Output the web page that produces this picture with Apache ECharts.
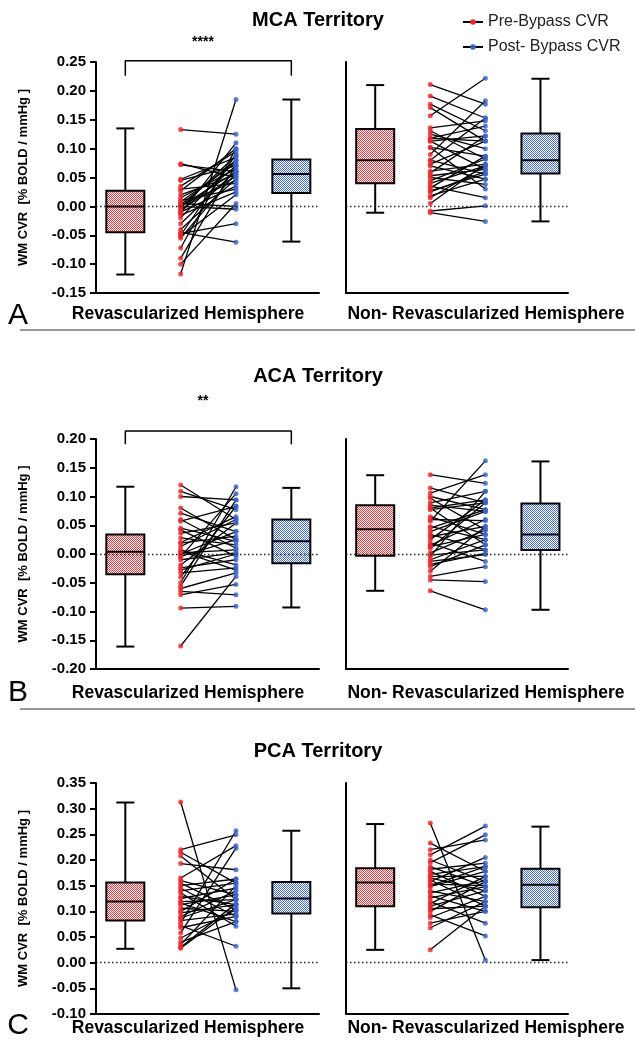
<!DOCTYPE html>
<html><head><meta charset="utf-8">
<script src="https://cdn.jsdelivr.net/npm/echarts@6.0.0/dist/echarts.min.js"></script>
<style>html,body{margin:0;padding:0;background:#fff}#c{width:635px;height:1043px}</style>
</head><body><div id="c"></div>
<script>
// ---------------- DATA ----------------
// MCA territory, revascularized hemisphere (paired pre / post)
const mcaRevPre  = [0.133,0.074,0.072,0.047,0.045,0.035,0.030,0.027,0.020,0.015,0.010,0.008,0.005,0.003,0.002,0.000,0.000,-0.002,-0.005,-0.008,-0.010,-0.012,-0.015,-0.020,-0.030,-0.040,-0.045,-0.047,-0.050,-0.052,-0.055,-0.072,-0.090,-0.100,-0.117];
const mcaRevPost = [0.125,0.050,0.060,0.085,0.070,0.095,0.040,0.100,0.055,0.065,0.030,0.075,0.000,0.080,0.045,-0.005,0.060,0.088,0.052,0.070,0.035,0.110,0.025,0.080,0.062,0.048,-0.062,-0.030,0.090,0.020,0.058,0.100,0.072,0.005,0.185];
// MCA territory, non-revascularized hemisphere
const mcaNonPre  = [0.211,0.191,0.177,0.171,0.157,0.136,0.131,0.118,0.118,0.113,0.113,0.102,0.102,0.080,0.080,0.073,0.070,0.061,0.058,0.053,0.050,0.044,0.040,0.035,0.032,0.027,0.025,0.018,0.015,0.005,-0.008,-0.011,0.090,0.125];
const mcaNonPost = [0.177,0.153,0.131,0.113,0.222,0.148,0.082,0.139,0.113,0.122,0.064,0.087,0.030,0.153,0.056,0.113,0.047,0.073,0.122,0.064,0.038,0.082,0.070,0.015,0.087,0.056,0.060,0.047,0.070,0.073,0.001,-0.026,0.183,0.100];
// ACA territory, revascularized hemisphere
const acaRevPre  = [0.120,0.109,0.100,0.080,0.071,0.057,0.042,0.036,0.028,0.019,0.013,0.007,0.002,0.000,-0.004,-0.010,-0.019,-0.024,-0.033,-0.040,-0.050,-0.056,-0.060,-0.065,-0.071,-0.094,-0.160,0.045,0.020,-0.005,0.060,-0.028,0.005];
const acaRevPost = [0.060,0.077,0.094,0.025,0.039,0.083,-0.004,0.054,0.016,0.031,0.060,-0.019,0.007,0.039,0.025,0.002,0.054,-0.010,-0.024,0.083,0.117,0.094,-0.033,-0.071,-0.053,-0.091,-0.039,0.022,0.065,0.105,0.010,0.000,-0.028];
// ACA territory, non-revascularized hemisphere
const acaNonPre  = [0.138,0.115,0.106,0.100,0.097,0.089,0.085,0.080,0.080,0.077,0.065,0.057,0.048,0.045,0.039,0.034,0.030,0.025,0.019,0.013,0.010,0.002,-0.002,-0.004,-0.010,-0.013,-0.022,-0.030,-0.039,-0.045,-0.064,0.060,0.015,-0.018];
const acaNonPost = [0.123,0.089,0.138,0.077,0.042,0.109,0.074,0.094,0.016,0.089,0.034,0.162,0.025,0.077,0.074,0.007,0.048,0.094,-0.013,0.034,0.089,0.042,0.007,0.109,0.025,-0.001,0.016,0.048,-0.022,-0.048,-0.097,0.058,0.060,0.001];
// PCA territory, revascularized hemisphere
const pcaRevPre  = [0.313,0.220,0.215,0.208,0.193,0.165,0.160,0.155,0.150,0.145,0.140,0.136,0.129,0.125,0.119,0.116,0.113,0.106,0.100,0.097,0.090,0.087,0.077,0.072,0.068,0.058,0.048,0.040,0.035,0.030,0.028,0.082];
const pcaRevPost = [-0.053,0.249,0.155,0.123,0.181,0.228,0.132,0.103,0.163,0.090,0.155,0.071,0.113,0.145,0.123,0.080,0.132,0.100,0.163,0.113,0.140,0.123,0.257,0.032,0.090,0.223,0.103,0.080,0.150,0.115,0.108,0.095];
// PCA territory, non-revascularized hemisphere
const pcaNonPre  = [0.272,0.233,0.220,0.210,0.200,0.195,0.187,0.182,0.178,0.172,0.168,0.161,0.158,0.153,0.148,0.140,0.136,0.130,0.126,0.119,0.115,0.110,0.105,0.100,0.093,0.088,0.077,0.068,0.025,0.150,0.165];
const pcaNonPost = [0.005,0.178,0.239,0.266,0.158,0.249,0.148,0.194,0.129,0.187,0.168,0.110,0.205,0.150,0.178,0.119,0.160,0.100,0.148,0.077,0.168,0.140,0.110,0.158,0.052,0.129,0.100,0.119,0.110,0.187,0.140];

// Box statistics [min, Q1, median, Q3, max]
const mcaRevBoxPre  = [-0.118,-0.045,0.000,0.027,0.135];
const mcaRevBoxPost = [-0.061,0.023,0.056,0.081,0.185];
const mcaNonBoxPre  = [-0.011,0.040,0.080,0.134,0.210];
const mcaNonBoxPost = [-0.026,0.057,0.080,0.126,0.221];
const acaRevBoxPre  = [-0.161,-0.035,0.004,0.034,0.117];
const acaRevBoxPost = [-0.093,-0.016,0.022,0.060,0.115];
const acaNonBoxPre  = [-0.064,-0.003,0.043,0.085,0.137];
const acaNonBoxPost = [-0.097,0.007,0.034,0.088,0.161];
const pcaRevBoxPre  = [0.027,0.082,0.119,0.156,0.312];
const pcaRevBoxPost = [-0.050,0.096,0.125,0.157,0.257];
const pcaNonBoxPre  = [0.025,0.110,0.156,0.184,0.270];
const pcaNonBoxPost = [0.005,0.108,0.152,0.183,0.265];

// Text
const panelTitles = ['MCA Territory','ACA Territory','PCA Territory'];
const panelLetters = ['A','B','C'];
const hemiLabels = ['Revascularized Hemisphere','Non- Revascularized Hemisphere'];
const legendNames = ['Pre-Bypass CVR','Post- Bypass CVR'];
const yAxisTitle = 'WM CVR  [% BOLD / mmHg ]';
const sigStars = ['****','**',null];
// slot positions on the x axis: pre box, pre points, post points, post box
const slots = [1,2,3,4];

// ---------------- LAYOUT / STYLE ----------------
const FONT = '"Liberation Sans", Arial, sans-serif';
const RED = '#e8262b', BLUE = '#3a62c4';
function checker(color){
  const c = document.createElement('canvas'); c.width = 2; c.height = 2;
  const g = c.getContext('2d'); g.fillStyle = '#fff'; g.fillRect(0,0,2,2);
  g.fillStyle = color; g.fillRect(0,0,1,1); g.fillRect(1,1,1,1);
  return {image: c, repeat: 'repeat'};
}
const redPat = checker('#e83a40'), bluePat = checker('#4a6fcf');

const panels = [
  {top:62, height:231, ymin:-0.15, ymax:0.25, bracket:[0.226,0.252], titleY:20, starY:42, labelY:314, letterY:316, sepY:330,
   rev:[mcaRevPre,mcaRevPost,mcaRevBoxPre,mcaRevBoxPost], non:[mcaNonPre,mcaNonPost,mcaNonBoxPre,mcaNonBoxPost]},
  {top:439, height:230, ymin:-0.20, ymax:0.20, bracket:[0.191,0.214], titleY:376, starY:401, labelY:693, letterY:693, sepY:709,
   rev:[acaRevPre,acaRevPost,acaRevBoxPre,acaRevBoxPost], non:[acaNonPre,acaNonPost,acaNonBoxPre,acaNonBoxPost]},
  {top:783, height:231, ymin:-0.10, ymax:0.35, bracket:null, titleY:751, starY:0, labelY:1028, letterY:1026, sepY:null,
   rev:[pcaRevPre,pcaRevPost,pcaRevBoxPre,pcaRevBoxPost], non:[pcaNonPre,pcaNonPost,pcaNonBoxPre,pcaNonBoxPost]}
];
const cols = [{left:96, width:223},{left:346, width:222}];

const grid = [], xAxis = [], yAxis = [], series = [], graphic = [];
function fmt(v){ if (Math.abs(v) < 1e-9) v = 0; return v.toFixed(2); }

function renderBox(params, api){
  const x = api.value(0);
  const pts = [1,2,3,4,5].map(i => api.coord([x, api.value(i)]));
  const cx = pts[0][0], bw = 38, cw = 18;
  const ln = {stroke:'#000', lineWidth:2};
  const fill = api.value(6) === 0 ? redPat : bluePat;
  return {type:'group', children:[
    {type:'line', shape:{x1:cx,y1:pts[4][1],x2:cx,y2:pts[3][1]}, style:ln},
    {type:'line', shape:{x1:cx,y1:pts[1][1],x2:cx,y2:pts[0][1]}, style:ln},
    {type:'line', shape:{x1:cx-cw/2,y1:pts[4][1],x2:cx+cw/2,y2:pts[4][1]}, style:ln},
    {type:'line', shape:{x1:cx-cw/2,y1:pts[0][1],x2:cx+cw/2,y2:pts[0][1]}, style:ln},
    {type:'rect', shape:{x:cx-bw/2,y:pts[3][1],width:bw,height:pts[1][1]-pts[3][1]}, style:{fill:fill, stroke:'#000', lineWidth:2}},
    {type:'line', shape:{x1:cx-bw/2,y1:pts[2][1],x2:cx+bw/2,y2:pts[2][1]}, style:ln}
  ]};
}
function renderPair(params, api){
  const a = api.coord([api.value(0), api.value(1)]);
  const b = api.coord([api.value(2), api.value(3)]);
  return {type:'line', shape:{x1:a[0],y1:a[1],x2:b[0],y2:b[1]}, style:{stroke:'#000', lineWidth:1.3}};
}

panels.forEach((p, pi) => {
  [p.rev, p.non].forEach((d, ci) => {
    const gi = grid.length;
    grid.push({left: cols[ci].left, width: cols[ci].width, top: p.top, height: p.height});
    xAxis.push({gridIndex: gi, type:'value', min:0.47, max:4.5,
      axisLine:{show:true, onZero:false, lineStyle:{color:'#000', width:2}},
      axisTick:{show:false}, axisLabel:{show:false}, splitLine:{show:false}});
    yAxis.push({gridIndex: gi, type:'value', min:p.ymin, max:p.ymax, interval:0.05,
      axisLine:{show:true, onZero:false, lineStyle:{color:'#000', width:2}},
      axisTick:{show: ci===0, length:6, lineStyle:{color:'#000', width:2}},
      axisLabel:{show: ci===0, formatter: fmt, fontFamily: FONT, fontWeight:'bold', fontSize:15, color:'#000', margin:10},
      splitLine:{show:false},
      name: ci===0 ? yAxisTitle : '', nameLocation:'middle', nameGap:66,
      nameTextStyle:{fontFamily: FONT, fontWeight:'bold', fontSize:13, color:'#000'}});
    const [pre, post, bPre, bPost] = d;
    series.push({type:'custom', xAxisIndex:gi, yAxisIndex:gi, renderItem: renderBox, silent:true,
      encode:{x:0, y:[1,2,3,4,5]},
      data:[[slots[0], ...bPre, 0],[slots[3], ...bPost, 1]], z:2});
    series.push({type:'custom', xAxisIndex:gi, yAxisIndex:gi, renderItem: renderPair, silent:true,
      encode:{x:[0,2], y:[1,3]},
      data: pre.map((v,i) => [slots[1], v, slots[2], post[i]]), z:3});
    series.push({type:'scatter', xAxisIndex:gi, yAxisIndex:gi, silent:true, symbolSize:5, z:4,
      itemStyle:{color:RED}, data: pre.map(v => [slots[1], v]),
      markLine:{silent:true, symbol:'none', label:{show:false}, animation:false,
        lineStyle:{type:[1.5,2.5], color:'#222', width:1.3}, data:[{yAxis:0}]}});
    series.push({type:'scatter', xAxisIndex:gi, yAxisIndex:gi, silent:true, symbolSize:5, z:4,
      itemStyle:{color:BLUE}, data: post.map(v => [slots[2], v])});
    if (ci === 0 && p.bracket) {
      series.push({type:'line', xAxisIndex:gi, yAxisIndex:gi, silent:true, clip:false, symbol:'none',
        lineStyle:{color:'#000', width:1.5},
        data:[[slots[0],p.bracket[0]],[slots[0],p.bracket[1]],[slots[3],p.bracket[1]],[slots[3],p.bracket[0]]]});
    }
  });
  graphic.push({type:'text', x:318, y:p.titleY, style:{text:panelTitles[pi], font:'bold 20px '+FONT, fill:'#000', align:'center', verticalAlign:'middle'}});
  if (sigStars[pi]) graphic.push({type:'text', x:203, y:p.starY, style:{text:sigStars[pi], font:'bold 14px '+FONT, fill:'#000', align:'center', verticalAlign:'middle'}});
  graphic.push({type:'text', x:18, y:p.letterY, style:{text:panelLetters[pi], font:'30px '+FONT, fill:'#000', align:'center', verticalAlign:'middle'}});
  graphic.push({type:'text', x:188, y:p.labelY, style:{text:hemiLabels[0], font:'bold 17.5px '+FONT, fill:'#000', align:'center', verticalAlign:'middle'}});
  graphic.push({type:'text', x:486, y:p.labelY, style:{text:hemiLabels[1], font:'bold 17.5px '+FONT, fill:'#000', align:'center', verticalAlign:'middle'}});
  if (p.sepY) graphic.push({type:'line', shape:{x1:20,y1:p.sepY,x2:635,y2:p.sepY}, style:{stroke:'#777', lineWidth:1.5}});
});

// legend carrier series
series.push({type:'line', name:legendNames[0], data:[], xAxisIndex:0, yAxisIndex:0, symbol:'circle', symbolSize:5,
  itemStyle:{color:RED}, lineStyle:{color:'#000', width:2}});
series.push({type:'line', name:legendNames[1], data:[], xAxisIndex:0, yAxisIndex:0, symbol:'circle', symbolSize:5,
  itemStyle:{color:BLUE}, lineStyle:{color:'#000', width:2}});

const chart = echarts.init(document.getElementById('c'), null, {renderer:'canvas'});
chart.setOption({
  animation:false,
  backgroundColor:'#fff',
  grid, xAxis, yAxis, series, graphic,
  legend:{data:legendNames, orient:'vertical', left:457, top:9, itemWidth:20, itemHeight:7, itemGap:9,
    textStyle:{fontFamily:FONT, fontSize:16, color:'#222'}}
});
</script></body></html>
